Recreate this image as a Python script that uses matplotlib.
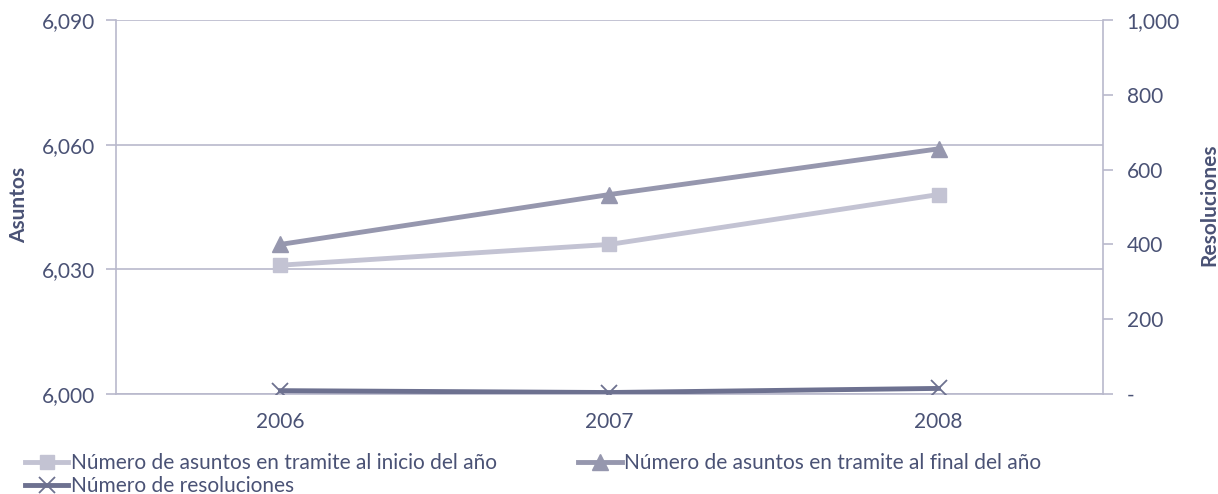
import matplotlib
matplotlib.use("Agg")
import matplotlib.pyplot as plt

# Data
years = ["2006", "2007", "2008"]
asuntos_inicio = [6031, 6036, 6048]
asuntos_final = [6036, 6048, 6059]
resoluciones = [9, 4, 15]

left_ticks = [6000, 6030, 6060, 6090]
right_ticks = [0, 200, 400, 600, 800, 1000]

text_col = "#4a5275"
grid_col = "#b9b9cc"
c_inicio = "#c3c3d3"
c_final = "#9697ae"
c_res = "#6d7190"

plt.rcParams["font.family"] = ["Lato", "DejaVu Sans"]
fs = 15

fig = plt.figure(figsize=(12.18, 4.94), dpi=100)
ax = fig.add_axes([0.0952, 0.2024, 0.8104, 0.7571])
ax2 = ax.twinx()

x = list(range(len(years)))

l1, = ax.plot(x, asuntos_inicio, color=c_inicio, linewidth=3.5, marker="s",
              markersize=10, label="Número de asuntos en tramite al inicio del año")
l2, = ax.plot(x, asuntos_final, color=c_final, linewidth=3.5, marker="^",
              markersize=11, label="Número de asuntos en tramite al final del año")
l3, = ax2.plot(x, resoluciones, color=c_res, linewidth=3.5, marker="x",
               markersize=11, markeredgewidth=1.3, label="Número de resoluciones")

ax.set_xlim(-0.5, 2.5)
ax.set_ylim(6000, 6090)
ax.set_yticks(left_ticks)
ax.set_yticklabels([f"{v:,}" for v in left_ticks])
ax.set_xticks(x)
ax.set_xticklabels(years)

ax2.set_ylim(0, 1000)
ax2.set_yticks(right_ticks)
ax2.set_yticklabels(["-" if v == 0 else f"{v:,}" for v in right_ticks])

ax.grid(axis="y", color=grid_col, linewidth=1.2)
ax.set_axisbelow(True)

for a in (ax, ax2):
    for s in a.spines.values():
        s.set_visible(False)
ax.spines["left"].set_visible(True)
ax.spines["left"].set_color(grid_col)
ax.spines["left"].set_linewidth(1.2)
ax.spines["bottom"].set_visible(True)
ax.spines["bottom"].set_color(grid_col)
ax.spines["bottom"].set_linewidth(1.2)
ax2.spines["right"].set_visible(True)
ax2.spines["right"].set_color(grid_col)
ax2.spines["right"].set_linewidth(1.2)

ax.tick_params(axis="y", colors=grid_col, labelcolor=text_col, labelsize=fs,
               length=7, width=1.2, pad=8)
ax.tick_params(axis="x", length=0, labelcolor=text_col, labelsize=fs, pad=13)
ax2.tick_params(axis="y", colors=grid_col, labelcolor=text_col, labelsize=fs,
                length=7, width=1.2, pad=10)

fig.text(0.016, 0.585, "Asuntos", rotation=90, ha="center", va="center",
         fontsize=fs, fontweight="bold", color=text_col)
fig.text(0.993, 0.585, "Resoluciones", rotation=90, ha="center", va="center",
         fontsize=fs, fontweight="bold", color=text_col)

# order so rows read: inicio | final, then resoluciones
fig.legend(handles=[l1, l3, l2], loc="lower left", bbox_to_anchor=(0.01, -0.03),
           ncol=2, frameon=False, fontsize=fs, labelcolor=text_col,
           handlelength=2.1, handletextpad=0.1, columnspacing=3.9,
           labelspacing=0.15, borderaxespad=0.2)

fig.savefig("out.png", dpi=100)
